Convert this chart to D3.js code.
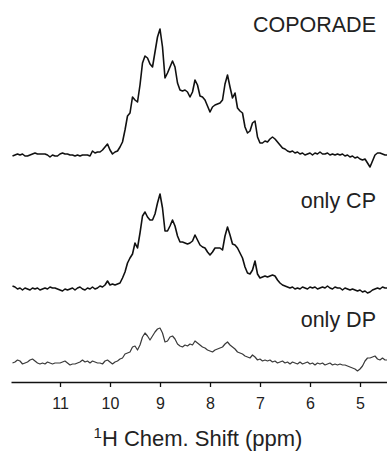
<!DOCTYPE html>
<html>
<head>
<meta charset="utf-8">
<script src="https://cdn.jsdelivr.net/npm/d3@7"></script>
<style>
  body { margin: 0; background: #fff; }
  svg { display: block; font-family: "Liberation Sans", Arial, sans-serif; }
</style>
</head>
<body>
<div id="chart"></div>
<script>
// chemical shift grid: 11.95 ppm down to 4.45 ppm, every 0.05 ppm
const ppmStart = 11.95, ppmStep = 0.05;

// intensities (arbitrary units, same scale for all three)
const coporade = [
  -1, 0, 1, 0, 1, -1, -1, 0, 1, 2, 1, 1, 1, 1, 0, -2, 0, -1, -1, 1,
  2, 1, 1, 0, 0, -1, 0, -1, 0, 0, 0, -1, 4, 2, 3, 3, 5, 8, 11, 5,
  1, 3, 4, 8, 13, 25, 39, 42, 58, 55, 53, 70, 92, 99, 97, 91, 88, 103, 118, 126,
  108, 77, 82, 88, 94, 88, 72, 65, 64, 65, 63, 58, 63, 75, 70, 59, 58, 55, 49, 43,
  48, 50, 51, 52, 55, 71, 80, 68, 57, 62, 47, 44, 42, 28, 22, 24, 32, 34, 18, 12,
  12, 14, 13, 16, 18, 16, 13, 10, 7, 6, 4, 3, 4, 2, 3, 1, 2, 0, 1, 2,
  0, 2, 1, 3, 1, 1, 2, 0, 1, 0, 1, 0, 1, -1, 0, -2, -1, -3, -2, -4,
  -5, -4, -8, -12, -6, 0, 2, 2, 1, 0, 0
];

const onlyCP = [
  2, 1, -1, 0, -2, 0, -1, -2, 0, -1, 0, -2, -1, 0, -1, 1, 0, 0, -1, -2,
  -3, -1, -2, -1, 0, -2, 0, 1, -1, -2, 0, -1, 1, -1, 0, 2, 1, 3, 7, 3,
  4, 3, 4, 5, 10, 16, 25, 30, 34, 45, 40, 55, 72, 76, 71, 68, 68, 74, 85, 94,
  80, 57, 57, 62, 68, 62, 52, 46, 46, 45, 44, 45, 47, 53, 48, 43, 41, 40, 36, 33,
  36, 40, 40, 40, 38, 52, 61, 53, 44, 43, 40, 35, 30, 21, 15, 14, 18, 27, 14, 10,
  11, 12, 11, 12, 13, 12, 8, 5, 3, 2, 1, 0, 1, -1, 0, -1, 1, 0, -1, 1,
  0, 1, -1, 0, 1, 0, 2, 0, -1, 1, 0, 0, -2, 0, -1, -2, -1, -2, -3, -2,
  -4, -3, -5, -4, -2, -1, 0, -1, 1, 0, 0
];

const onlyDP = [
  0, 1, 3, 2, -1, 0, 1, 3, 4, 2, 0, -1, 0, -1, 1, 0, -1, 0, 0, 0,
  1, 2, 0, -2, -1, -1, 0, 1, 3, 1, 2, 0, 2, 1, 0, 0, -1, 2, 3, 1,
  -1, 1, 2, 4, 5, 9, 10, 11, 16, 17, 13, 18, 26, 30, 27, 23, 27, 31, 34, 35,
  30, 21, 22, 26, 27, 24, 19, 17, 16, 18, 17, 19, 18, 22, 20, 18, 16, 15, 13, 12,
  11, 13, 14, 15, 16, 19, 21, 18, 16, 14, 11, 10, 9, 7, 6, 5, 8, 6, 3, 4,
  2, 3, 2, 3, 1, 2, 0, 1, 2, 0, 1, -1, 1, 0, -1, 1, -1, 0, 1, -1,
  0, -2, 0, -1, 0, -2, -1, 0, -2, -1, -2, -1, -2, -2, -3, -4, -5, -6, -8, -6,
  -3, 2, 5, 5, 6, 7, 4, 3, 5, 3, 3
];

const spectra = [
  { name: "COPORADE", values: coporade },
  { name: "only CP", values: onlyCP },
  { name: "only DP", values: onlyDP }
];

const tickValues = [11, 10, 9, 8, 7, 6, 5];

const width = 387, height = 452;
// baseline of each trace and the y of its label
const baselines = [155, 288, 363];
const labelY = [32, 208, 327];
const strokes = ["#111", "#111", "#3a3a3a"];
const strokeWidths = [1.6, 1.6, 1.2];
const axisY = 382;

const svg = d3.select("#chart")
  .append("svg")
  .attr("width", width)
  .attr("height", height);

// reversed ppm axis, 50 px per ppm
const x = d3.scaleLinear()
  .domain([11.98, 4.46])
  .range([11, 387]);

const y = d3.scaleLinear()
  .domain([0, 130])
  .range([0, -130]);

const line = d3.line()
  .x((d, i) => x(ppmStart - i * ppmStep))
  .y(d => y(d));

spectra.forEach((s, k) => {
  const g = svg.append("g")
    .attr("transform", `translate(0,${baselines[k]})`);

  g.append("path")
    .datum(s.values)
    .attr("fill", "none")
    .attr("stroke", strokes[k])
    .attr("stroke-width", strokeWidths[k])
    .attr("stroke-linejoin", "round")
    .attr("d", line);

  svg.append("text")
    .attr("x", 376)
    .attr("y", labelY[k])
    .attr("text-anchor", "end")
    .style("font-size", "21.5px")
    .attr("fill", "#222")
    .text(s.name);
});

// x axis
const xAxis = svg.append("g")
  .attr("transform", `translate(0,${axisY})`)
  .call(d3.axisBottom(x)
    .tickValues(tickValues)
    .tickSize(5)
    .tickSizeOuter(0)
    .tickPadding(11));

xAxis.select(".domain").attr("stroke", "#111").attr("stroke-width", 1.5);
xAxis.selectAll(".tick line").attr("stroke", "#111").attr("stroke-width", 1.3);
xAxis.selectAll(".tick text")
  .style("font-size", "16px")
  .style("font-family", "'Liberation Sans', Arial, sans-serif")
  .attr("fill", "#222");

// axis title with superscript
const title = svg.append("text")
  .attr("x", 198)
  .attr("y", 446)
  .attr("text-anchor", "middle")
  .style("font-size", "22px")
  .attr("fill", "#222");

title.append("tspan")
  .attr("dy", "-8")
  .style("font-size", "15px")
  .text("1");

title.append("tspan")
  .attr("dy", "8")
  .text("H Chem. Shift (ppm)");
</script>
</body>
</html>
